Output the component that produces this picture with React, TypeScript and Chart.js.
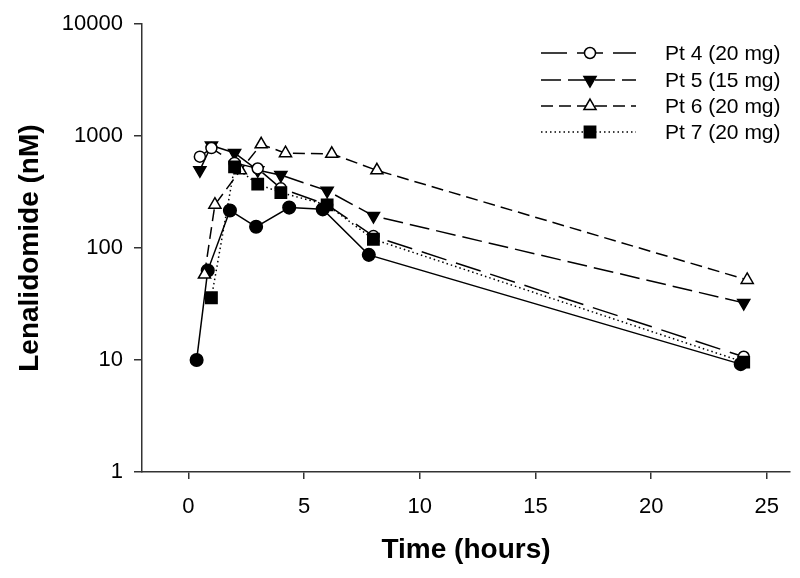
import React, { useEffect, useRef } from 'react';
import { Chart, registerables } from 'chart.js';

Chart.register(...registerables);

// ---- data ----
const xTickValues = [0, 5, 10, 15, 20, 25];
const yTickValues = [1, 10, 100, 1000, 10000];

const pt4Time = [0.5, 1, 2, 3, 4, 6, 8, 24];
const pt4Conc = [656, 783, 577, 514, 342, 244, 128, 10.7];

const pt5Time = [0.5, 1, 2, 3, 4, 6, 8, 24];
const pt5Conc = [497, 826, 707, 497, 449, 326, 194, 32.4];

const pt6Time = [0.7, 1.15, 2.25, 3.15, 4.2, 6.2, 8.15, 24.15];
const pt6Conc = [58, 244, 495, 845, 705, 695, 495, 52];

const pt7Time = [1, 2, 3, 4, 6, 8, 24];
const pt7Conc = [36, 532, 373, 313, 243, 120, 9.6];

const unlabeledTime = [0.36, 0.84, 1.8, 2.93, 4.36, 5.81, 7.8, 23.87];
const unlabeledConc = [10, 63, 217, 155, 230, 222, 87, 9.2];

const seriesLabels = ['Pt 4 (20 mg)', 'Pt 5 (15 mg)', 'Pt 6 (20 mg)', 'Pt 7 (20 mg)'];

const FONT = '"Liberation Sans", Arial, Helvetica, sans-serif';
const INK = '#000000';
const AXIS = '#333333';

function toPoints(xs: number[], ys: number[]) {
  return xs.map((x, i) => ({ x, y: ys[i] }));
}

function drawMarker(
  ctx: CanvasRenderingContext2D,
  style: string,
  x: number,
  y: number,
  r: number,
  fill: string,
  rotation: number
) {
  ctx.save();
  ctx.setLineDash([]);
  ctx.lineWidth = 1.5;
  ctx.strokeStyle = INK;
  ctx.fillStyle = fill;
  ctx.beginPath();
  if (style === 'circle') {
    ctx.arc(x, y, r, 0, Math.PI * 2);
  } else if (style === 'triangle') {
    let rad = (rotation * Math.PI) / 180;
    ctx.moveTo(x + Math.sin(rad) * r, y - Math.cos(rad) * r);
    rad += (2 * Math.PI) / 3;
    ctx.lineTo(x + Math.sin(rad) * r, y - Math.cos(rad) * r);
    rad += (2 * Math.PI) / 3;
    ctx.lineTo(x + Math.sin(rad) * r, y - Math.cos(rad) * r);
    ctx.closePath();
  } else {
    const s = Math.SQRT1_2 * r;
    ctx.rect(x - s, y - s, 2 * s, 2 * s);
  }
  ctx.fill();
  ctx.stroke();
  ctx.restore();
}

const legendPlugin = {
  id: 'customLegend',
  afterDraw(chart: any) {
    const ctx: CanvasRenderingContext2D = chart.ctx;
    const rows = [53, 80, 106, 132];
    const lineX0 = 541;
    const lineX1 = 636;
    const markX = 590;
    const textX = 665;
    chart.data.datasets.forEach((ds: any) => {
      if (!ds.label) return;
      const idx = seriesLabels.indexOf(ds.label);
      const y = rows[idx];
      ctx.save();
      ctx.strokeStyle = INK;
      ctx.lineWidth = 1.5;
      ctx.setLineDash(ds.borderDash || []);
      ctx.beginPath();
      ctx.moveTo(lineX0, y);
      ctx.lineTo(lineX1, y);
      ctx.stroke();
      ctx.restore();
      drawMarker(ctx, ds.pointStyle, markX, y, ds.pointRadius, ds.pointBackgroundColor, ds.pointRotation || 0);
      ctx.save();
      ctx.fillStyle = INK;
      ctx.font = `21px ${FONT}`;
      ctx.textBaseline = 'middle';
      ctx.textAlign = 'left';
      ctx.fillText(ds.label, textX, y + 1);
      ctx.restore();
    });
  },
};

export default function App() {
  const canvasRef = useRef<HTMLCanvasElement | null>(null);

  useEffect(() => {
    const canvas = canvasRef.current;
    if (!canvas) return;
    const common = {
      borderColor: INK,
      borderWidth: 1.5,
      pointBorderColor: INK,
      pointBorderWidth: 1.5,
      fill: false,
      tension: 0,
    };
    const chart = new Chart(canvas, {
      type: 'line',
      data: {
        datasets: [
          {
            ...common,
            label: seriesLabels[0],
            data: toPoints(pt4Time, pt4Conc),
            borderDash: [26, 10],
            pointStyle: 'circle',
            pointRadius: 5.5,
            pointBackgroundColor: '#ffffff',
            order: 1,
          },
          {
            ...common,
            label: seriesLabels[1],
            data: toPoints(pt5Time, pt5Conc),
            borderDash: [20, 7],
            pointStyle: 'triangle',
            pointRotation: 180,
            pointRadius: 7,
            pointBackgroundColor: INK,
            order: 2,
          },
          {
            ...common,
            label: seriesLabels[2],
            data: toPoints(pt6Time, pt6Conc),
            borderDash: [12, 6],
            pointStyle: 'triangle',
            pointRadius: 7,
            pointBackgroundColor: '#ffffff',
            order: 3,
          },
          {
            ...common,
            label: seriesLabels[3],
            data: toPoints(pt7Time, pt7Conc),
            borderDash: [1.5, 3],
            pointStyle: 'rect',
            pointRadius: 8,
            pointBackgroundColor: INK,
            order: 0,
          },
          {
            ...common,
            label: '',
            data: toPoints(unlabeledTime, unlabeledConc),
            borderDash: [],
            pointStyle: 'circle',
            pointRadius: 6.3,
            pointBackgroundColor: INK,
            order: 4,
          },
        ] as any,
      },
      options: {
        animation: false,
        responsive: false,
        maintainAspectRatio: false,
        devicePixelRatio: 1,
        layout: { padding: { top: 19, right: 10, left: 0, bottom: 0 } },
        plugins: {
          legend: { display: false },
          tooltip: { enabled: false },
          title: { display: false },
        },
        scales: {
          x: {
            type: 'linear',
            min: -2,
            max: 26,
            afterBuildTicks: (scale: any) => {
              scale.ticks = xTickValues.map((v) => ({ value: v }));
            },
            afterFit: (scale: any) => {
              scale.height = 106;
            },
            border: { display: true, color: AXIS, width: 1.5 },
            grid: {
              drawOnChartArea: false,
              drawTicks: true,
              tickLength: 7,
              color: AXIS,
              lineWidth: 1.5,
            },
            ticks: {
              color: INK,
              padding: 15,
              maxRotation: 0,
              autoSkip: false,
              font: { family: FONT, size: 22 },
              callback: (v: any) => String(v),
            },
            title: {
              display: true,
              text: 'Time (hours)',
              color: INK,
              font: { family: FONT, size: 28, weight: 'bold' },
              padding: { top: 0, bottom: 11 },
            },
          },
          y: {
            type: 'logarithmic',
            min: 1,
            max: 10000,
            afterBuildTicks: (scale: any) => {
              scale.ticks = yTickValues.map((v) => ({ value: v }));
            },
            afterFit: (scale: any) => {
              scale.width = 142;
            },
            border: { display: true, color: AXIS, width: 1.5 },
            grid: {
              drawOnChartArea: false,
              drawTicks: true,
              tickLength: 8,
              color: AXIS,
              lineWidth: 1.5,
            },
            ticks: {
              color: INK,
              padding: 11,
              autoSkip: false,
              font: { family: FONT, size: 22 },
              callback: (v: any) => String(v),
            },
            title: {
              display: true,
              text: 'Lenalidomide (nM)',
              color: INK,
              font: { family: FONT, size: 28, weight: 'bold' },
              padding: { top: 13, bottom: 0 },
            },
          },
        },
      } as any,
      plugins: [legendPlugin],
    });
    return () => chart.destroy();
  }, []);

  return (
    <div style={{ position: 'fixed', left: 0, top: 0, width: 800, height: 578, background: '#ffffff' }}>
      <canvas ref={canvasRef} width={800} height={578} style={{ display: 'block', width: 800, height: 578 }} />
    </div>
  );
}
